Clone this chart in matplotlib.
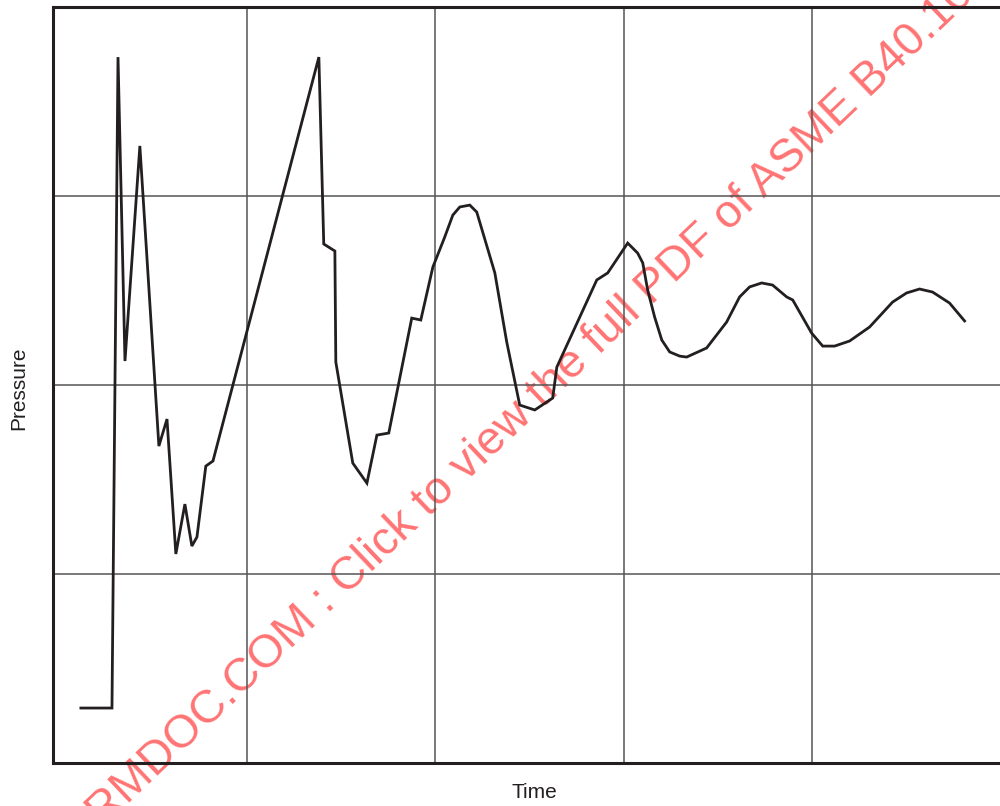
import matplotlib
matplotlib.use("Agg")
import matplotlib.pyplot as plt

plt.rcParams['font.family'] = ['Liberation Sans', 'DejaVu Sans']

# time in grid units, pressure in grid units (gridlines at 1, 2, 3, ...)
time = [0.119, 0.284, 0.316, 0.353, 0.432, 0.533, 0.576, 0.623, 0.671, 0.708,
        0.735, 0.782, 0.820, 1.382, 1.408, 1.467, 1.472, 1.562, 1.637, 1.690,
        1.753, 1.875, 1.923, 1.987, 2.050, 2.093, 2.130, 2.183, 2.220, 2.316,
        2.379, 2.448, 2.528, 2.623, 2.645, 2.857, 2.915, 3.021, 3.074, 3.101,
        3.127, 3.164, 3.202, 3.244, 3.297, 3.334, 3.440, 3.546, 3.615, 3.668,
        3.732, 3.790, 3.865, 3.897, 3.997, 4.056, 4.119, 4.199, 4.305, 4.427,
        4.501, 4.570, 4.639, 4.729, 4.809]
pressure = [0.291, 0.291, 3.735, 2.127, 3.265, 1.677, 1.820, 1.106, 1.370, 1.148,
            1.196, 1.571, 1.598, 3.735, 2.746, 2.709, 2.122, 1.587, 1.481, 1.735,
            1.746, 2.354, 2.344, 2.624, 2.783, 2.899, 2.942, 2.952, 2.915, 2.593,
            2.228, 1.894, 1.868, 1.931, 2.095, 2.556, 2.593, 2.751, 2.698, 2.646,
            2.503, 2.360, 2.238, 2.175, 2.153, 2.148, 2.196, 2.333, 2.466, 2.519,
            2.540, 2.529, 2.466, 2.450, 2.275, 2.206, 2.206, 2.233, 2.307, 2.439,
            2.487, 2.508, 2.492, 2.434, 2.339]

xgrid = [1, 2, 3, 4]
ygrid = [1, 2, 3]

ink = '#231f20'

fig = plt.figure(figsize=(10, 8.06), dpi=100)
ax = fig.add_axes([0.053, 0.0533, 0.947, 0.938])
ax.set_axisbelow(True)

ax.plot(time, pressure, color=ink, lw=2.0, solid_joinstyle='miter', zorder=3)

ax.set_xlim(-0.029, 4.997)
ax.set_ylim(0, 4)
ax.set_xticks(xgrid)
ax.set_yticks(ygrid)
ax.tick_params(length=0, labelbottom=False, labelleft=False)
ax.grid(True, color='#555555', lw=1.1)

for side in ['left', 'bottom', 'top']:
    ax.spines[side].set_linewidth(2.2)
    ax.spines[side].set_color(ink)
ax.spines['right'].set_visible(False)

fig.text(0.534, 1 - 792 / 806, 'Time', ha='center', va='center',
         fontsize=15, color=ink)
fig.text(0.0185, 1 - 388 / 806, 'Pressure', ha='center', va='center',
         rotation=90, fontsize=15, color=ink)

# watermark
ax.text(-0.1465, -0.3215,
        'WWW.ASMENORMDOC.COM : Click to view the full PDF of ASME B40.100 2022',
        transform=fig.transFigure, rotation=43.6, rotation_mode='anchor',
        ha='left', va='baseline', fontsize=33.5, color='red', alpha=0.55,
        clip_on=False, zorder=0.1)

fig.savefig('out.png', dpi=100)
